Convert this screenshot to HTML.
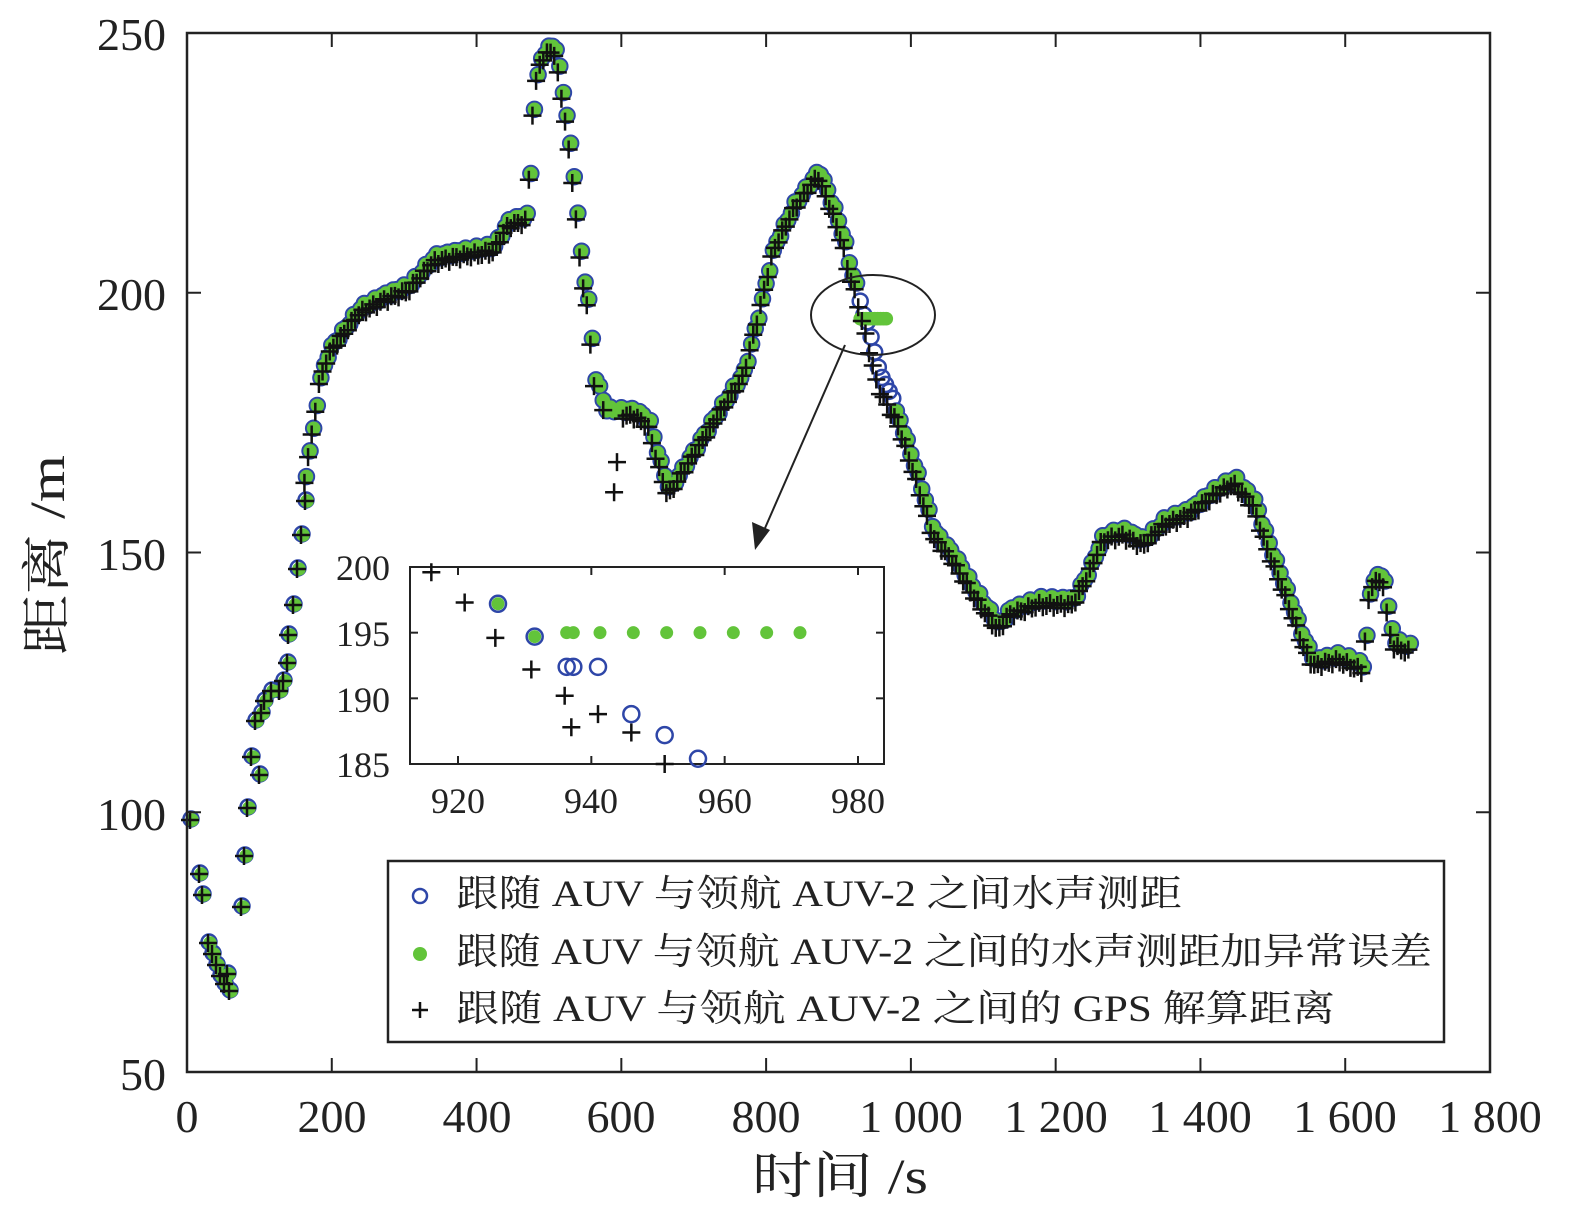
<!DOCTYPE html>
<html><head><meta charset="utf-8">
<style>
html,body{margin:0;padding:0;background:#fff;}
svg{display:block;}
text{font-family:"Liberation Serif","Noto Serif CJK SC",serif;fill:#222;}
</style></head>
<body>
<svg id="s" width="1575" height="1220" viewBox="0 0 1575 1220" xmlns="http://www.w3.org/2000/svg">
<rect width="1575" height="1220" fill="#fff"/>
<g id="data"></g>
<rect x="187" y="33" width="1303" height="1039" fill="none" stroke="#222" stroke-width="2.5"/>
<g id="ticks" stroke="#222" stroke-width="2"></g>
<g font-size="46">
<text x="187" y="1132" text-anchor="middle">0</text>
<text x="332" y="1132" text-anchor="middle">200</text>
<text x="477" y="1132" text-anchor="middle">400</text>
<text x="621" y="1132" text-anchor="middle">600</text>
<text x="766" y="1132" text-anchor="middle">800</text>
<text x="911" y="1132" text-anchor="middle">1 000</text>
<text x="1056" y="1132" text-anchor="middle">1 200</text>
<text x="1200" y="1132" text-anchor="middle">1 400</text>
<text x="1345" y="1132" text-anchor="middle">1 600</text>
<text x="1490" y="1132" text-anchor="middle">1 800</text>
<text x="166" y="50" text-anchor="end">250</text>
<text x="166" y="310" text-anchor="end">200</text>
<text x="166" y="570" text-anchor="end">150</text>
<text x="166" y="830" text-anchor="end">100</text>
<text x="166" y="1090" text-anchor="end">50</text>
</g>
<text x="752" y="1193" font-size="50" textLength="176" lengthAdjust="spacingAndGlyphs">时间 /s</text>
<text transform="translate(64,655) rotate(-90)" font-size="50" textLength="200" lengthAdjust="spacingAndGlyphs">距离 /m</text>
<ellipse cx="873" cy="315" rx="62" ry="40" fill="none" stroke="#222" stroke-width="2"/>
<line x1="845" y1="345" x2="762" y2="535" stroke="#222" stroke-width="2"/>
<polygon points="755,550 752,522 770,530" fill="#222"/>
<rect x="410" y="567" width="474" height="197" fill="#fff" stroke="#222" stroke-width="2"/>
<g id="inset"></g>
<g font-size="36">
<text x="458" y="813" text-anchor="middle">920</text>
<text x="591" y="813" text-anchor="middle">940</text>
<text x="725" y="813" text-anchor="middle">960</text>
<text x="858" y="813" text-anchor="middle">980</text>
<text x="390" y="580" text-anchor="end">200</text>
<text x="390" y="646" text-anchor="end">195</text>
<text x="390" y="712" text-anchor="end">190</text>
<text x="390" y="777" text-anchor="end">185</text>
</g>
<rect x="388" y="861" width="1056" height="181" fill="#fff" stroke="#222" stroke-width="2.5"/>
<circle cx="420" cy="896" r="7" fill="none" stroke="#2e46a8" stroke-width="2.5"/>
<circle cx="420" cy="954" r="7" fill="#62c43a"/>
<path d="M412 1010h16M420 1002v16" stroke="#111" stroke-width="2.5"/>
<g font-size="37">
<text x="456" y="906" textLength="726" lengthAdjust="spacingAndGlyphs">跟随 AUV 与领航 AUV-2 之间水声测距</text>
<text x="456" y="964" textLength="976" lengthAdjust="spacingAndGlyphs">跟随 AUV 与领航 AUV-2 之间的水声测距加异常误差</text>
<text x="456" y="1021" textLength="879" lengthAdjust="spacingAndGlyphs">跟随 AUV 与领航 AUV-2 之间的 GPS 解算距离</text>
</g>
</svg>
<script>
var NS="http://www.w3.org/2000/svg";
function el(p,tag,a){var e=document.createElementNS(NS,tag);for(var k in a)e.setAttribute(k,a[k]);p.appendChild(e);return e;}
var tk=document.getElementById('ticks');
for(var i=0;i<=9;i++){var x=187+i*1303/9;el(tk,'line',{x1:x,y1:1072,x2:x,y2:1058});el(tk,'line',{x1:x,y1:33,x2:x,y2:47});}
for(var i=0;i<=4;i++){var y=33+i*1039/4;el(tk,'line',{x1:187,y1:y,x2:201,y2:y});el(tk,'line',{x1:1490,y1:y,x2:1476,y2:y});}
function X(t){return 187+t*1303/1800;}
function Y(v){return 33+(250-v)*1039/200;}
var K=[[160,160],[168,168],[175,173.5],[184,183],[197,189],[218,193],[239,197],[274,199.6],[308,201.5],[343,207],[377,208],[425,209],[446,214],[474,215],[476,231],[488,245],[508,248.3],[518,241],[526,233],[536,221.7],[543,210],[550,202.5],[557,196.7],[564,184],[580,177.5],[619,177.4],[639,175.5],[653,168],[667,162],[694,168],[736,177.4],[771,185],[792,196.7],[812,209],[840,217],[874,223.6],[895,216],[909,210],[916,205.3],[927,200.5],[957,183],[985,175.5],[1012,164],[1033,154],[1060,149.5],[1088,143],[1123,136],[1137,139],[1178,141],[1226,141],[1247,146.6],[1267,153.4],[1295,154.3],[1323,152.4],[1351,156.3],[1386,158.2],[1420,162],[1448,164.3],[1475,160],[1496,151.4],[1524,141],[1544,133.2],[1558,129.3],[1593,130.3],[1627,128.3],[1630,134],[1634,141],[1641,145.7],[1655,145],[1662,137],[1669,133],[1690,132]];
function f(t){for(var i=0;i<K.length-1;i++){if(t>=K[i][0]&&t<=K[i+1][0]){var r=(t-K[i][0])/(K[i+1][0]-K[i][0]||1);return K[i][1]+r*(K[i+1][1]-K[i][1]);}}return K[K.length-1][1];}
var g=document.getElementById('data');
var C=el(g,'g',{}),G=el(g,'g',{}),P=el(g,'g',{});
function plus(par,px,py){el(par,'path',{d:'M'+(px-9)+' '+py+'h18M'+px+' '+(py-9)+'v18',stroke:'#111','stroke-width':2.5});}
function pt(x,y,gx,gy,px,py,noP){
 el(C,'circle',{cx:x,cy:y,r:7.5,fill:'none',stroke:'#2e46a8','stroke-width':2.5});
 el(G,'circle',{cx:gx,cy:gy,r:6.8,fill:'#62c43a'});
 if(!noP)plus(P,px,py);
}
// early explicit pixel points
var E=[[191,819],[200,873],[203,894],[209,942],[213,953],[217,964],[221,975],[225,983],[230,990],[228,973],[242,906],[245,855],[248,807],[252,756],[260,774],[256,720],[262,712],[265,700],[272,690],[280,690],[284,680],[288,662],[289,634],[294,604],[298,568],[302,534],[306,500]];
E.forEach(function(p){pt(p[0],p[1],p[0]+1,p[1]+1,p[0]-1,p[1]+1);});
for(var t=165;t<=1692;t+=5){
 var v=f(t)+Math.sin(t*1.7)*0.5;
 var x=X(t),y=Y(v);
 var cv=v;
 if(t>=936&&t<=975){cv=f(t)+1.5;}
 var an=(t>=930&&t<=975);
 var gx=an?X(930+(t-930)*0.8):x, gy=an?Y(195):y;
 pt(x,Y(cv),gx,gy,x-2,Y(v-1.2),(t>=570&&t<=600));
}
[[590,161.6],[594,167.4],[575,177.4]].forEach(function(p){plus(P,X(p[0]),Y(p[1]));});
var ins=document.getElementById('inset');
function IX(t){return 458+(t-920)*400/60;}
function IY(v){return 567+(200-v)*197/15;}
var it=el(ins,'g',{stroke:'#222','stroke-width':2});
[920,940,960,980].forEach(function(t){el(it,'line',{x1:IX(t),y1:764,x2:IX(t),y2:756});el(it,'line',{x1:IX(t),y1:567,x2:IX(t),y2:575});});
[200,195,190,185].forEach(function(v){el(it,'line',{x1:410,y1:IY(v),x2:418,y2:IY(v)});el(it,'line',{x1:884,y1:IY(v),x2:876,y2:IY(v)});});
[[926,197.2],[931.5,194.7],[936.3,192.4],[937.3,192.4],[941,192.4],[946,188.8],[951,187.2],[956,185.4]].forEach(function(p){el(ins,'circle',{cx:IX(p[0]),cy:IY(p[1]),r:8,fill:'none',stroke:'#2e46a8','stroke-width':2.5});});
[[926,197.2],[931.5,194.7],[936.3,195],[937.3,195],[941.3,195],[946.3,195],[951.3,195],[956.3,195],[961.3,195],[966.3,195],[971.3,195]].forEach(function(p){el(ins,'circle',{cx:IX(p[0]),cy:IY(p[1]),r:6.5,fill:'#62c43a'});});
[[916,199.6],[921,197.3],[925.6,194.6],[931,192.2],[936,190.2],[937,187.8],[941,188.8],[946,187.4],[951,185]].forEach(function(p){plus(ins,IX(p[0]),IY(p[1]));});
</script>
</body></html>
